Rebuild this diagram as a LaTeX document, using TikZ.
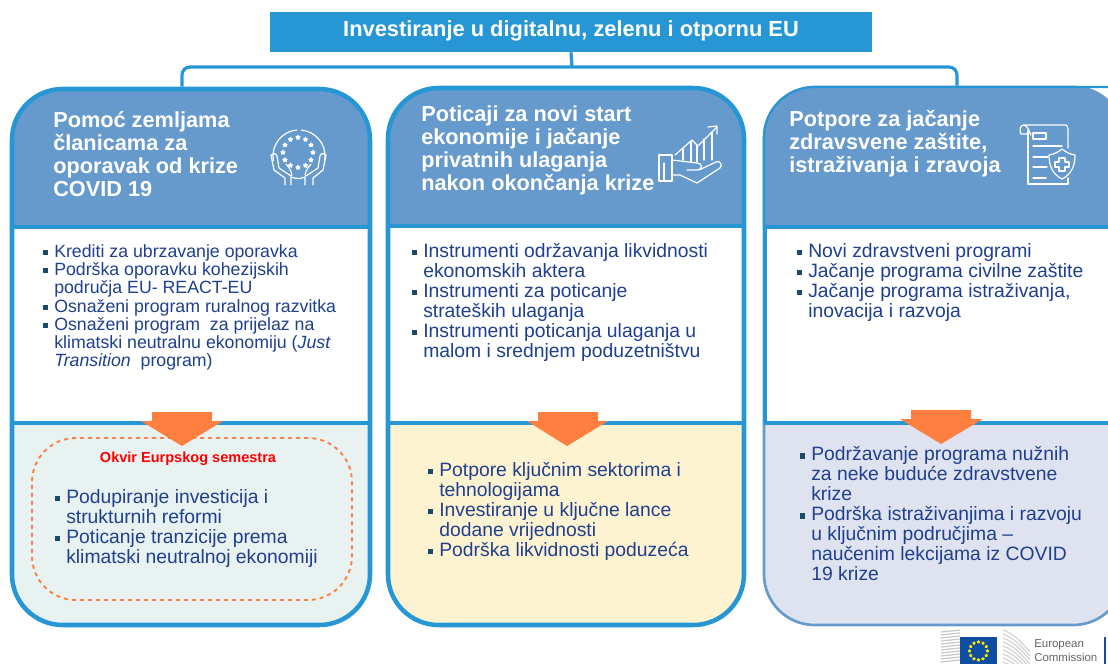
\documentclass[tikz,border=0pt]{standalone}
\usepackage{fontspec}
\setmainfont{Liberation Sans}
\usetikzlibrary{shapes.geometric}
\usetikzlibrary{calc}
\definecolor{ColLine}{RGB}{39,150,213}
\definecolor{ColHead}{RGB}{102,153,204}
\definecolor{ColText}{RGB}{31,63,143}
\definecolor{ColBullet}{RGB}{25,75,105}
\definecolor{ColArrow}{RGB}{255,127,65}
\definecolor{ColA}{RGB}{232,242,241}
\definecolor{ColB}{RGB}{254,243,208}
\definecolor{ColC}{RGB}{223,226,239}
\definecolor{ColFlag}{RGB}{15,77,160}
\newcommand{\Bul}{\makebox[0pt][r]{\textcolor{ColBullet}{\rule[1.8pt]{3.8pt}{3.8pt}}\hspace{5pt}}}
\tikzstyle{TitleBox}=[rectangle,fill=ColLine,text=white,inner sep=0pt,minimum width=451.5pt,
minimum height=30pt,font=\bfseries\fontsize{16.4}{18}\selectfont]
\tikzstyle{PanelBox}=[rectangle,draw=ColLine,line width=3.4pt,rounded corners=38pt,inner sep=0pt,
minimum height=402pt]
\tikzstyle{HeadText}=[anchor=west,align=left,inner sep=0pt,text=white,
font=\bfseries\fontsize{16.3}{17.3}\selectfont]
\tikzstyle{SmallList}=[anchor=west,align=left,inner sep=0pt,text=ColText,
font=\fontsize{13.3}{13.7}\selectfont]
\tikzstyle{BigList}=[anchor=west,align=left,inner sep=0pt,text=ColText,
font=\fontsize{14.5}{15}\selectfont]
\tikzstyle{Link}=[ColLine,line width=2.4pt,rounded corners=6pt]
\tikzstyle{Divider}=[ColLine,line width=3pt]
\tikzstyle{DownArrow}=[fill=ColArrow]
\tikzstyle{Icon}=[white,line width=.9pt,line cap=round,line join=round]
\tikzstyle{IconStar}=[star,star points=5,fill=white,inner sep=0pt,minimum size=4.2pt]
\tikzstyle{FlagStar}=[star,star points=5,fill=yellow,inner sep=0pt,minimum size=2.8pt]
\begin{document}
\begin{tikzpicture}[x=.75pt,y=-.75pt]
    \useasboundingbox (0,0) rectangle (1108,664);
    \clip (0,0) rectangle (1108,664);
    % panel fills
    \fill[white] (12,227) rectangle (1108,423);
    \fill[ColHead] (12,227) [rounded corners=38pt] -- (12,89) -- (370,89) [sharp corners] -- (370,227) -- cycle;
    \fill[ColHead] (388,226) [rounded corners=38pt] -- (388,88) -- (744,88) [sharp corners] -- (744,226) -- cycle;
    \fill[ColHead] (764,227) [rounded corners=38pt] -- (764,87) -- (1124,87) [sharp corners] -- (1124,227) -- cycle;
    \fill[ColA] (12,423) [rounded corners=38pt] -- (12,625) -- (370,625) [sharp corners] -- (370,423) -- cycle;
    \fill[ColB] (388,423) [rounded corners=38pt] -- (388,625) -- (744,625) [sharp corners] -- (744,423) -- cycle;
    \fill[ColC] (764,423) [rounded corners=38pt] -- (764,625) -- (1124,625) [sharp corners] -- (1124,423) -- cycle;
    % panels
    \node[PanelBox,minimum width=268.5pt](PanelA)at(191,357){};
    \node[PanelBox,minimum width=267pt,minimum height=402.75pt](PanelB)at(566,356.5){};
    \node[PanelBox,line width=2pt,draw=ColHead,minimum width=270pt,minimum height=403.5pt](PanelC)at(944,356){};
    \draw[ColLine,line width=1.6pt,rounded corners=38pt] (764,227) -- (764,87) -- (1124,87);
    \draw[ColLine,line width=3pt] (764.5,227) -- (764.5,423);
    \draw[Divider](12,227)--(370,227);
    \draw[Divider](388,226)--(744,226);
    \draw[Divider](764,227)--(1108,227);
    \draw[Divider](12,423)--(370,423);
    \draw[Divider](388,423)--(744,423);
    \draw[Divider](764,423)--(1108,423);
    % title and links
    \node[TitleBox](Title)at(571,32){\raisebox{4.5pt}{Investiranje u digitalnu, zelenu i otpornu EU}};
    \coordinate(Bar)at(572,67);
    \draw[ColLine,line width=2.4pt](Title.south)--(Bar);
    \draw[Link]([xshift=-6.75pt]PanelA.north)|-(Bar)-|([xshift=9.75pt]PanelC.north);
    % headings
    \node[HeadText](HeadA)at(53,154){Pomoć zemljama\\članicama za\\oporavak od krize\\COVID 19};
    \node[HeadText](HeadB)at(421,150){Poticaji za novi start\\ekonomije i jačanje\\privatnih ulaganja\\nakon okončanja krize};
    \node[HeadText](HeadC)at(789,144){Potpore za jačanje\\zdravsvene zaštite,\\istraživanja i zravoja};
    % lists
    \node[SmallList](ListA)at(54,307.5){\Bul Krediti za ubrzavanje oporavka\\
        \Bul Podrška oporavku kohezijskih\\područja EU- REACT-EU\\
        \Bul Osnaženi program ruralnog razvitka\\
        \Bul Osnaženi program\ \ za prijelaz na\\klimatski neutralnu ekonomiju (\textit{Just}\\
        \textit{Transition}\ \ program)};
    \node[BigList](ListB)at(423,302.5){\Bul Instrumenti održavanja likvidnosti\\ekonomskih aktera\\
        \Bul Instrumenti za poticanje\\strateških ulaganja\\
        \Bul Instrumenti poticanja ulaganja u\\malom i srednjem poduzetništvu};
    \node[BigList](ListC)at(808,282.5){\Bul Novi zdravstveni programi\\
        \Bul Jačanje programa civilne zaštite\\
        \Bul Jačanje programa istraživanja,\\inovacija i razvoja};
    \node[BigList](ListD)at(66,528){\Bul Podupiranje investicija i\\strukturnih reformi\\
        \Bul Poticanje tranzicije prema\\klimatski neutralnoj ekonomiji};
    \node[BigList](ListE)at(439,511){\Bul Potpore ključnim sektorima i\\tehnologijama\\
        \Bul Investiranje u ključne lance\\dodane vrijednosti\\
        \Bul Podrška likvidnosti poduzeća};
    \node[BigList](ListF)at(811,514){\Bul Podržavanje programa nužnih\\za neke buduće zdravstvene\\krize\\
        \Bul Podrška istraživanjima i razvoju\\u ključnim područjima --\\naučenim lekcijama iz COVID\\19 krize};
    % dashed frame
    \node[rectangle,draw=ColArrow,dashed,line width=1.4pt,rounded corners=33pt,inner sep=0pt,
        minimum width=240pt,minimum height=121.5pt](Frame)at(192,519){};
    \node[inner sep=0pt,text=red,font=\bfseries\fontsize{10.9}{12}\selectfont](FrameTitle)at(188,459){Okvir Eurpskog semestra};
    % arrows
    \fill[DownArrow](152,412)--(212,412)--(212,421)--(223,421)--(182,446)--(141,421)--(152,421)--cycle;
    \fill[DownArrow](538,412)--(598,412)--(598,421)--(608,421)--(567,446)--(527,421)--(538,421)--cycle;
    \fill[DownArrow](911,410)--(971,410)--(971,419)--(983,419)--(941,444)--(900,419)--(911,419)--cycle;
    % icon hands
    \draw[Icon](299,156)++(265:26)arc(265:170:26);
    \draw[Icon](299,156)++(275:26)arc(275:370:26);
    \foreach \a in {0,30,...,330}
        \node[IconStar](sa\a)at($(298,152.5)+(\a:15)$){};
    \draw[Icon](285,185)--(285,178)--(274,170)--(271,155)..controls(273,153)and(276,153)..(277,156)--(279,168)--(291,176)..controls(293,176)and(291,169)..(286,164);
    \draw[Icon](291,185)--(291,177)..controls(297,179)and(300,179)..(305,177)--(305,185);
    \draw[Icon](313,185)--(313,178)--(323,170)--(326,155)..controls(324,153)and(321,153)..(320,156)--(318,168)--(306,176)..controls(304,176)and(306,169)..(311,164);
    % icon growth
    \draw[Icon](659,155)rectangle(672,181);
    \draw[Icon](664,163)--(664,181);
    \draw[Icon](672,160)--(697,163)..controls(703,163)and(703,170)..(697,170)--(687,170);
    \draw[Icon](672,175)--(680,175)--(697,183)--(720,168)..controls(723,165)and(720,160)..(716,162)--(699,170);
    \draw[Icon](675,155)--(692,140)--(698,146)--(717,127);
    \draw[Icon](708,127)--(717,126)--(717,134);
    \draw[Icon](683,148)--(683,160)(691,141)--(691,162)(697,145)--(697,162)(704,139)--(704,160)(712,132)--(712,160);
    % icon document
    \draw[Icon](1031,135)..controls(1029,132)and(1029,127)..(1024,125)--(1066,125)..controls(1067,125)and(1068,127)..(1068,129)--(1068,148);
    \draw[Icon](1024,125)..controls(1020,125)and(1019,130)..(1021,134)--(1027,134)(1027,134)--(1029,131);
    \draw[Icon](1028,130)--(1028,184)--(1068,184)--(1068,178);
    \draw[Icon](1033,133)rectangle(1046,139);
    \draw[Icon](1033,146)--(1062,146)(1033,157)--(1048,157)(1033,167)--(1047,167)(1033,178)--(1046,178);
    \draw[Icon](1062,149)..controls(1057,153)and(1054,154)..(1049,155)..controls(1049,165)and(1052,174)..(1062,179)..controls(1072,174)and(1075,165)..(1075,155)..controls(1070,154)and(1067,153)..(1062,149)--cycle;
    \draw[Icon](1059,158)--(1065,158)--(1065,162)--(1069,162)--(1069,167)--(1065,167)--(1065,171)--(1059,171)--(1059,167)--(1055,167)--(1055,162)--(1059,162)--cycle;
    % logo
    \foreach \y in {632,635,...,664}
        \draw[black!22,line width=.9pt](941,\y)--(960,\y-2);
    \foreach \y in {630,634,...,662}
        \draw[black!16,line width=1pt](1003,\y)..controls(1012,\y+3)and(1020,\y+10)..(1030,\y+22);
    \fill[ColFlag](960,637)rectangle(997,664);
    \foreach \a in {0,30,...,330}
        \node[FlagStar](fa\a)at($(978.5,651)+(\a:9)$){};
    \node[anchor=west,inner sep=0pt,text=black!60,font=\fontsize{8.6}{11}\selectfont](LogoA)at(1034,645){European};
    \node[anchor=west,inner sep=0pt,text=black!60,font=\fontsize{8.6}{11}\selectfont](LogoB)at(1034,657){Commission};
    \draw[ColFlag,line width=1.2pt](1105,637)--(1105,664);
\end{tikzpicture}
\end{document}
